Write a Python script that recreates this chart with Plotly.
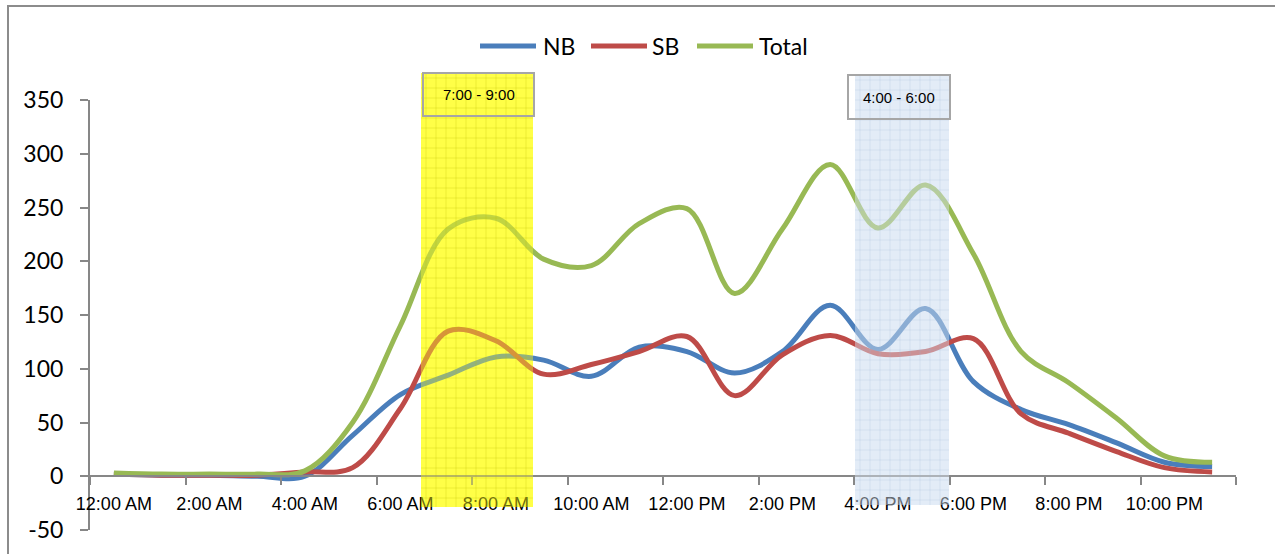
import plotly.graph_objects as go

# Hourly volumes by direction
hour_labels = [
    "12:00 AM", "1:00 AM", "2:00 AM", "3:00 AM", "4:00 AM", "5:00 AM",
    "6:00 AM", "7:00 AM", "8:00 AM", "9:00 AM", "10:00 AM", "11:00 AM",
    "12:00 PM", "1:00 PM", "2:00 PM", "3:00 PM", "4:00 PM", "5:00 PM",
    "6:00 PM", "7:00 PM", "8:00 PM", "9:00 PM", "10:00 PM", "11:00 PM",
]
nb = [2, 1, 1, 0, 0, 38, 76, 94, 111, 108, 93, 120,
      116, 96, 116, 159, 118, 156, 88, 62, 48, 31, 13, 9]
sb = [2, 1, 1, 1, 4, 8, 63, 135, 126, 95, 104, 116,
      130, 75, 113, 131, 114, 116, 128, 58, 40, 23, 8, 4]
total = [3, 2, 2, 2, 5, 50, 140, 230, 240, 202, 196, 235,
         249, 170, 230, 290, 231, 271, 207, 116, 87, 54, 19, 13]

series_names = ["NB", "SB", "Total"]
series_values = [nb, sb, total]
series_colors = ["#4A7EBB", "#BE4B48", "#98B954"]

y_ticks = [-50, 0, 50, 100, 150, 200, 250, 300, 350]
y_tick_text = ["-50", "0", "50", "100", "150", "200", "250", "300", "350"]

peak_labels = ["7:00 - 9:00", "4:00 - 6:00"]

x_pos = list(range(len(hour_labels)))

# plot-area geometry in pixels (for paper-referenced decorations)
FIG_W, FIG_H = 1275, 554
M_L, M_R, M_T, M_B = 90, 39, 100, 24
PL, PR = M_L, FIG_W - M_R
PT, PB = M_T, FIG_H - M_B


def px_x(px):
    return (px - PL) / (PR - PL)


def px_y(py):
    return (PB - py) / (PB - PT)


AXIS_GREY = "#878787"

fig = go.Figure()
for name, vals, col in zip(series_names, series_values, series_colors):
    fig.add_trace(go.Scatter(
        x=x_pos, y=vals, mode="lines", name=name,
        line=dict(color=col, width=5, shape="spline", smoothing=1.0),
        showlegend=False, hoverinfo="x+y+name",
    ))

shapes = []
annotations = []

# chart frame (runs off the right and bottom edges)
shapes.append(dict(type="rect", xref="paper", yref="paper",
                   x0=px_x(8), x1=px_x(1300), y0=px_y(580), y1=px_y(6),
                   line=dict(color="#8C8C8C", width=2), fillcolor="rgba(0,0,0,0)",
                   layer="below"))

# peak-period bands: solid tint under the lines, translucent veil plus a
# fine grid texture over them
bands = [
    dict(px0=421, px1=533, py0=73, py1=507, under="#FFFF5C",
         over="rgba(255,255,40,0.40)", grid="rgba(190,190,0,0.28)",
         box=(423, 534, 73, 116)),
    dict(px0=855, px1=949, py0=75, py1=505, under="#E9F0F9",
         over="rgba(220,231,245,0.45)", grid="rgba(160,188,225,0.22)",
         box=(848, 950, 75, 119)),
]
GRID_STEP = 10
for band, text in zip(bands, peak_labels):
    x0, x1 = px_x(band["px0"]), px_x(band["px1"])
    y0, y1 = px_y(band["py1"]), px_y(band["py0"])
    shapes.append(dict(type="rect", xref="paper", yref="paper", x0=x0, x1=x1,
                       y0=y0, y1=y1, line=dict(width=0),
                       fillcolor=band["under"], layer="below"))
    shapes.append(dict(type="rect", xref="paper", yref="paper", x0=x0, x1=x1,
                       y0=y0, y1=y1, line=dict(width=0),
                       fillcolor=band["over"], layer="above"))
    gx = band["px0"] + GRID_STEP / 2
    while gx < band["px1"]:
        shapes.append(dict(type="line", xref="paper", yref="paper",
                           x0=px_x(gx), x1=px_x(gx), y0=y0, y1=y1,
                           line=dict(color=band["grid"], width=1), layer="above"))
        gx += GRID_STEP
    gy = band["py0"] + GRID_STEP / 2
    while gy < band["py1"]:
        shapes.append(dict(type="line", xref="paper", yref="paper",
                           x0=x0, x1=x1, y0=px_y(gy), y1=px_y(gy),
                           line=dict(color=band["grid"], width=1), layer="above"))
        gy += GRID_STEP
    lx0, lx1, ly0, ly1 = band["box"]
    shapes.append(dict(type="rect", xref="paper", yref="paper",
                       x0=px_x(lx0), x1=px_x(lx1), y0=px_y(ly1), y1=px_y(ly0),
                       line=dict(color="#A6A6A6", width=2),
                       fillcolor="rgba(0,0,0,0)", layer="above"))
    annotations.append(dict(xref="paper", yref="paper",
                            x=px_x((lx0 + lx1) / 2), y=px_y((ly0 + ly1) / 2),
                            text=text, showarrow=False, xanchor="center",
                            yanchor="middle",
                            font=dict(family="Liberation Sans, Arial", size=15,
                                      color="#000000")))

# legend drawn across the top
legend_x = [(480, 536, 541), (591, 647, 650), (697, 753, 757)]
for (lx0, lx1, tx), name, col in zip(legend_x, series_names, series_colors):
    shapes.append(dict(type="line", xref="paper", yref="paper",
                       x0=px_x(lx0), x1=px_x(lx1), y0=px_y(46), y1=px_y(46),
                       line=dict(color=col, width=5)))
    annotations.append(dict(xref="paper", yref="paper", x=px_x(tx), y=px_y(46),
                            text=name, showarrow=False, xanchor="left",
                            yanchor="middle",
                            font=dict(family="Lato", size=23, color="#000000")))

fig.update_layout(
    width=FIG_W, height=FIG_H,
    margin=dict(l=M_L, r=M_R, t=M_T, b=M_B, pad=0),
    paper_bgcolor="white", plot_bgcolor="white",
    showlegend=False,
    shapes=shapes, annotations=annotations,
    xaxis=dict(
        range=[-0.5, 23.5], anchor="free", position=0.125,
        showline=True, linecolor=AXIS_GREY, linewidth=2,
        tickmode="array", tickvals=x_pos[::2], ticktext=hour_labels[::2],
        ticks="outside", ticklen=11, tickcolor="rgba(0,0,0,0)",
        tickfont=dict(family="Liberation Sans, Arial", size=18, color="#000000"),
        showgrid=False, zeroline=False,
        minor=dict(tickmode="linear", tick0=-0.5, dtick=2, ticks="outside",
                   ticklen=8, tickwidth=2, tickcolor=AXIS_GREY, showgrid=False),
    ),
    yaxis=dict(
        range=[-50, 350], tickmode="array", tickvals=y_ticks,
        ticktext=y_tick_text,
        showline=True, linecolor=AXIS_GREY, linewidth=2,
        ticks="outside", ticklen=8, tickwidth=2, tickcolor=AXIS_GREY,
        tickfont=dict(family="Lato", size=23, color="#000000"),
        ticklabelstandoff=12,
        showgrid=False, zeroline=False,
    ),
)

fig.write_html("out.html")
